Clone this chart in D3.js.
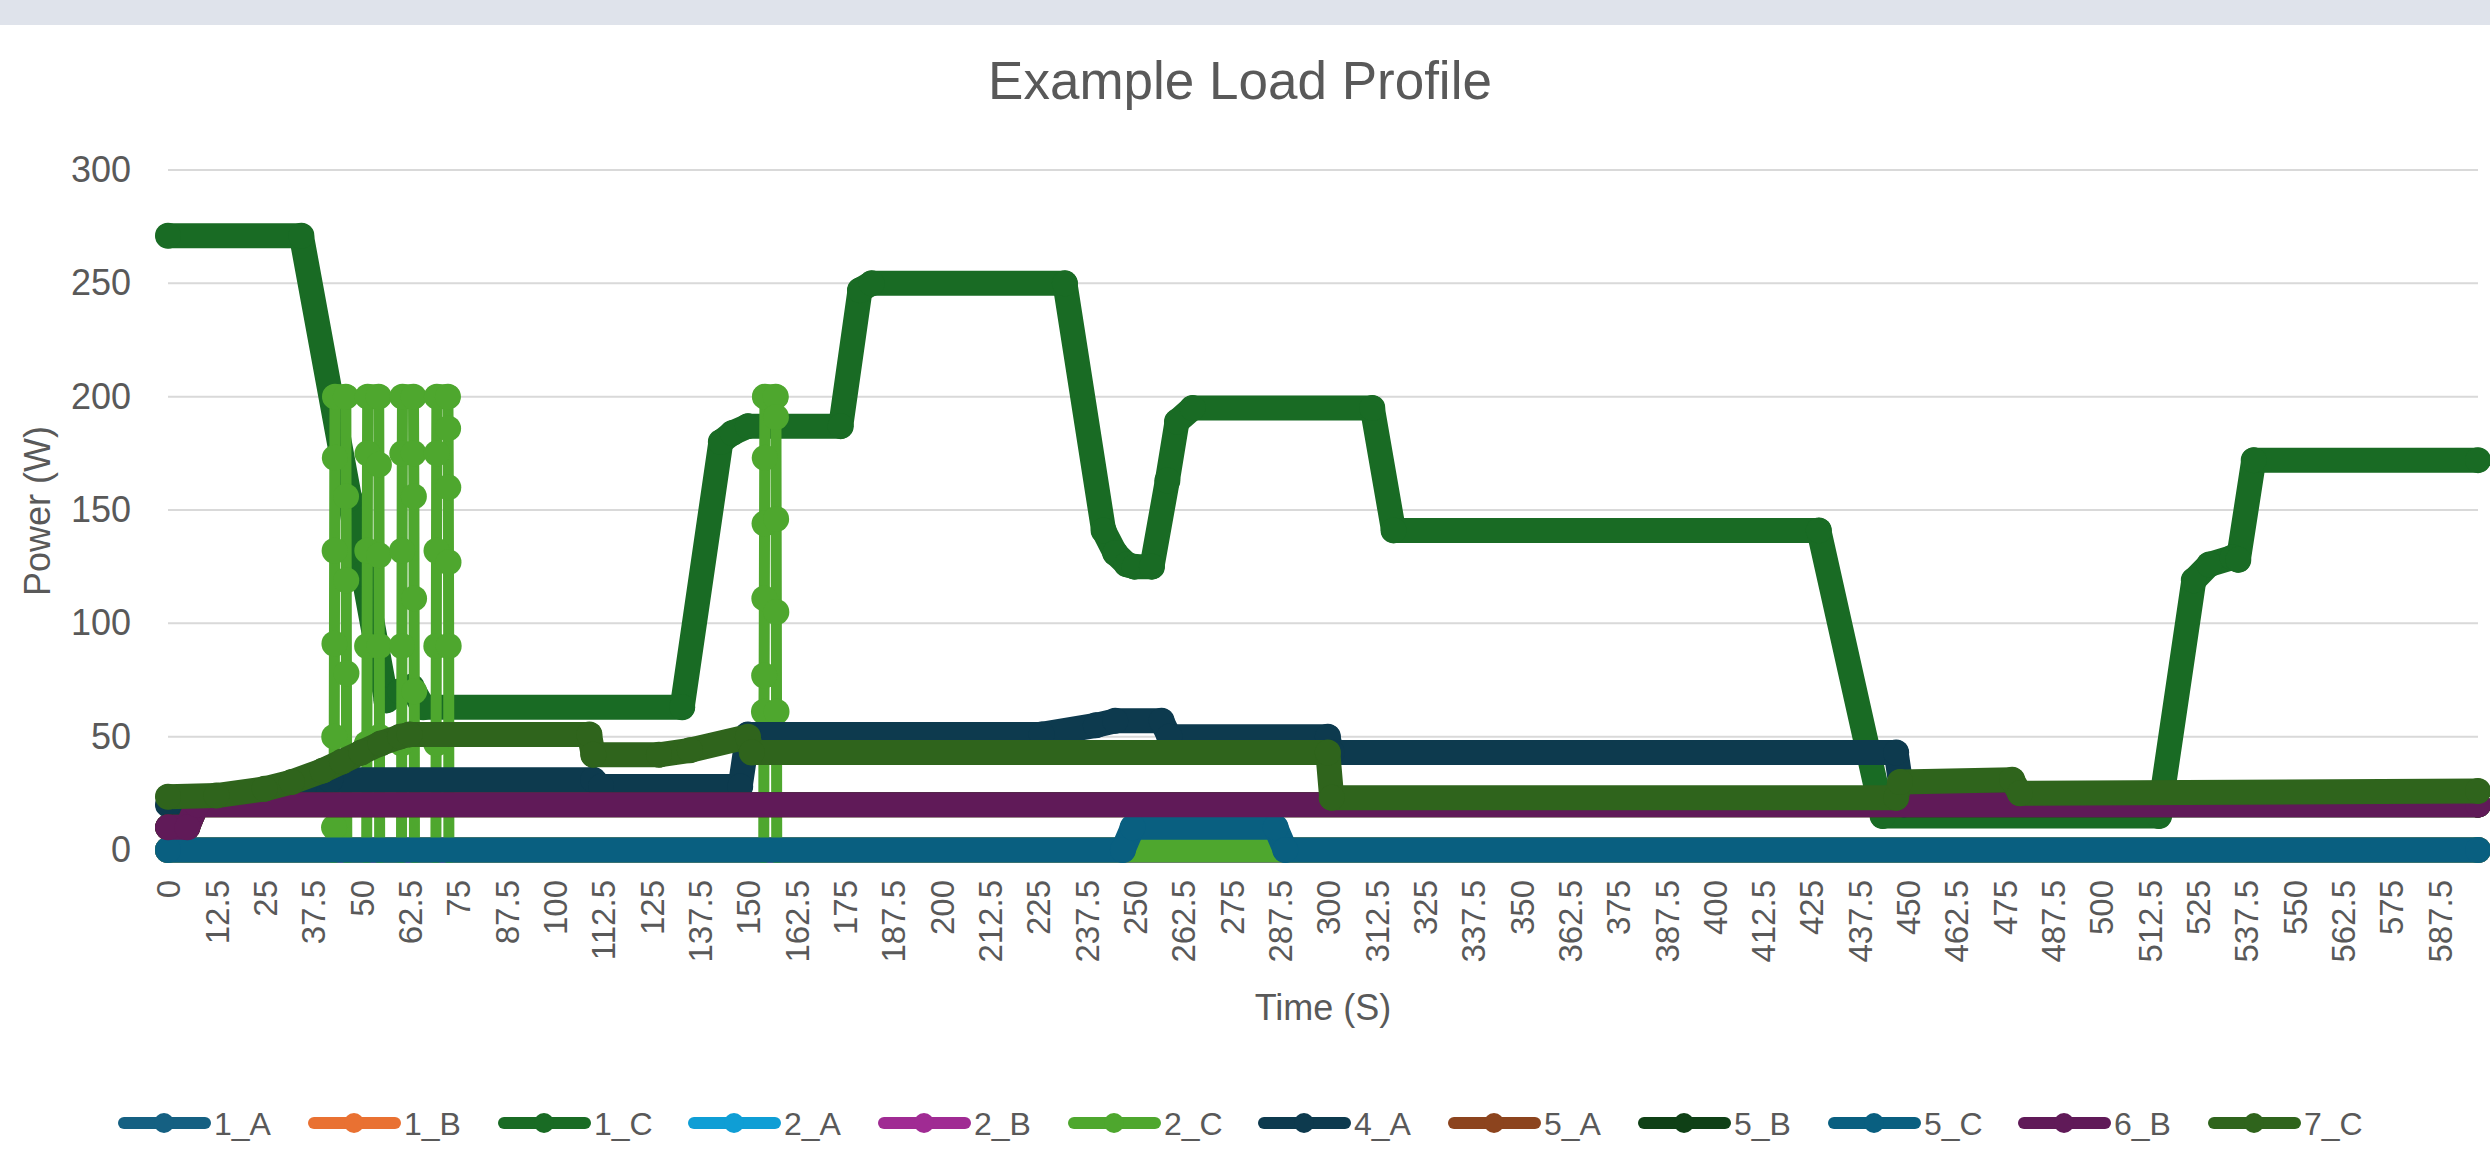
<!DOCTYPE html>
<html><head><meta charset="utf-8">
<script src="https://cdn.jsdelivr.net/npm/d3@7"></script>
<style>html,body{margin:0;padding:0;background:#fff;} svg{display:block}</style>
</head><body>
<svg id="chart" width="2490" height="1155"></svg>
<script>
// ---------- data ----------
const seriesNames = ["1_A","1_B","1_C","2_A","2_B","2_C","4_A","5_A","5_B","5_C","6_B","7_C"];
const seriesColors = ["#156082","#E97132","#196B24","#0F9ED5","#A02B93","#4EA72E","#0D3A4E","#8C441E","#0F4016","#095F80","#601A58","#2F641C"];

const s1A = [[0,0],[597.5,0]];
const s1B = [[0,0],[597.5,0]];
const s1C = [[0,271],[34.5,271],[47,155],[50.5,122],[56.5,66],[60,70],[63,72],[66,63],[133,63],[143,180],[146,184],[150,187],[174,187],[179,247],[182,250],[232,250],[242,141],[245,131],[248,126],[250,125],[254.5,125],[258.5,163],[261,189],[265,195],[311.5,195],[317,141],[427,141],[443.5,15],[515,15],[524,119],[528,126],[534,129],[535.5,128],[539.5,172],[597.5,172]];
const s2A = [[0,0],[597.5,0]];
const s2B = [[0,0],[597.5,0]];
const s2C = [[0,0],[42.9,0],[42.95,10],[43.0,50],[43.05,91],[43.1,132],[43.15,173],[43.2,200],[46.0,200],[46.05,156],[46.1,119],[46.15,78],[46.2,37],[46.25,0],
  [51.4,0],[51.45,47],[51.5,90],[51.55,132],[51.6,175],[51.65,200],[54.5,200],[54.55,170],[54.6,130],[54.65,90],[54.7,50],[54.75,0],
  [60.4,0],[60.45,47],[60.5,90],[60.55,132],[60.6,175],[60.65,200],[63.5,200],[63.55,175],[63.6,156],[63.65,111],[63.7,70],[63.75,0],
  [69.3,0],[69.35,47],[69.4,90],[69.45,132],[69.5,175],[69.55,200],[72.4,200],[72.45,186],[72.5,160],[72.55,127],[72.6,90],[72.65,0],
  [154.1,0],[154.15,61],[154.2,77],[154.25,111],[154.3,144],[154.35,173],[154.4,200],[157.2,200],[157.25,191],[157.3,146],[157.35,105],[157.4,61],[157.45,0],
  [597.5,0]];
const s4A = [[0,20],[20,22],[35,27],[42,31],[110,31],[112,28],[148,28],[150,51],[226,51],[240,55],[245,57],[257,57],[259,50],[300,50],[301,43],[447,43],[449,20],[597.5,20]];
const s5A = [[0,10],[5,10],[7.5,20],[597.5,20]];
const s5B = [[0,10],[5,10],[7.5,20],[597.5,20]];
const s5C = [[0,0],[247,0],[249.5,10],[286.5,10],[289,0],[597.5,0]];
const s6B = [[0,10],[5,10],[7.5,20],[597.5,20]];
const s7C = [[0,23.5],[12.5,24],[25,27],[32,30],[40,35],[45,39],[50,43],[55,47],[60,50],[62.5,51],[109,51],[110,42],[127,42],[135,44],[150,50],[151,43],[300,43],[301,23],[447,23],[448,30],[477,31],[479,25],[597.5,26]];
const seriesData = [s1A,s1B,s1C,s2A,s2B,s2C,s4A,s5A,s5B,s5C,s6B,s7C];

const yTicks = [0,50,100,150,200,250,300];
const xTicks = [0,12.5,25,37.5,50,62.5,75,87.5,100,112.5,125,137.5,150,162.5,175,187.5,200,212.5,225,237.5,250,262.5,275,287.5,300,312.5,325,337.5,350,362.5,375,387.5,400,412.5,425,437.5,450,462.5,475,487.5,500,512.5,525,537.5,550,562.5,575,587.5];

const titleText = "Example Load Profile";
const xTitle = "Time (S)";
const yTitle = "Power (W)";

// ---------- drawing ----------
const svg = d3.select("#chart");
const W = 2490, H = 1155;
const plot = {left:168, right:2478, top:170, bottom:850};
const x = d3.scaleLinear().domain([0,597.5]).range([plot.left, plot.right]);
const y = d3.scaleLinear().domain([0,300]).range([plot.bottom, plot.top]);
const textColor = "#595959";
const tickFont = "'Liberation Sans', Arial, sans-serif";
const bandWidth = 25;   // dense markers merge into a thick band
const jumpWidth = 11;   // connector visible on near-vertical jumps
const markerR = 13;

svg.append("rect").attr("x",0).attr("y",0).attr("width",W).attr("height",H).attr("fill","#fff");
svg.append("rect").attr("x",0).attr("y",0).attr("width",W).attr("height",25).attr("fill","#dfe3eb");

// title
svg.append("text").attr("x",1240).attr("y",99).attr("text-anchor","middle")
  .attr("font-family",tickFont).attr("font-size",53).attr("fill",textColor).text(titleText);

// gridlines
svg.append("g").selectAll("line").data(yTicks).join("line")
  .attr("x1",plot.left).attr("x2",plot.right)
  .attr("y1",d=>y(d)).attr("y2",d=>y(d))
  .attr("stroke","#d9d9d9").attr("stroke-width",2);

// y axis
const yAxis = svg.append("g").attr("transform",`translate(${plot.left},0)`)
  .call(d3.axisLeft(y).tickValues(yTicks).tickSize(0).tickPadding(37).tickFormat(d=>String(d)));
yAxis.select(".domain").remove();
yAxis.selectAll("text").attr("font-family",tickFont).attr("font-size",36).attr("fill",textColor);

// x axis
const xAxis = svg.append("g").attr("transform",`translate(0,${plot.bottom})`)
  .call(d3.axisBottom(x).tickValues(xTicks).tickSize(0).tickFormat(d=>String(d)));
xAxis.select(".domain").attr("stroke","#d9d9d9").attr("stroke-width",2);
xAxis.selectAll("text")
  .attr("font-family",tickFont).attr("font-size",33).attr("fill",textColor)
  .attr("transform","rotate(-90)").attr("text-anchor","end")
  .attr("x",-30).attr("y",0).attr("dy","0.36em");

// axis titles
svg.append("text").attr("x",(plot.left+plot.right)/2).attr("y",1020).attr("text-anchor","middle")
  .attr("font-family",tickFont).attr("font-size",36).attr("fill",textColor).text(xTitle);
svg.append("text").attr("transform","translate(50,511) rotate(-90)").attr("text-anchor","middle")
  .attr("font-family",tickFont).attr("font-size",36).attr("fill",textColor).text(yTitle);

// series lines
const line = d3.line().x(d=>x(d[0])).y(d=>y(d[1]));
const gSeries = svg.append("g");
seriesData.forEach((data,i)=>{
  const g = gSeries.append("g");
  const segs = d3.pairs(data);
  const fast = segs.filter(([a,b]) => (b[0]-a[0]) < 0.5);
  const slow = segs.filter(([a,b]) => (b[0]-a[0]) >= 0.5);
  g.selectAll("path.band").data(slow).join("path").attr("class","band")
    .attr("d",line).attr("fill","none")
    .attr("stroke",seriesColors[i]).attr("stroke-width",bandWidth)
    .attr("stroke-linejoin","round").attr("stroke-linecap","round");
  g.selectAll("path.jump").data(fast).join("path").attr("class","jump")
    .attr("d",line).attr("fill","none")
    .attr("stroke",seriesColors[i]).attr("stroke-width",jumpWidth)
    .attr("stroke-linecap","round");
  g.selectAll("circle").data(data).join("circle")
    .attr("cx",d=>x(d[0])).attr("cy",d=>y(d[1])).attr("r",markerR)
    .attr("fill",seriesColors[i]);
});

// legend
const legend = svg.append("g");
seriesNames.forEach((name,i)=>{
  const sx = 118 + i*190, cy = 1123;
  legend.append("line").attr("x1",sx+6).attr("x2",sx+87).attr("y1",cy).attr("y2",cy)
    .attr("stroke",seriesColors[i]).attr("stroke-width",12).attr("stroke-linecap","round");
  legend.append("circle").attr("cx",sx+46).attr("cy",cy).attr("r",10).attr("fill",seriesColors[i]);
  legend.append("text").attr("x",sx+96).attr("y",cy).attr("dy","0.36em")
    .attr("font-family",tickFont).attr("font-size",32).attr("fill",textColor).text(name);
});
</script>
</body></html>
